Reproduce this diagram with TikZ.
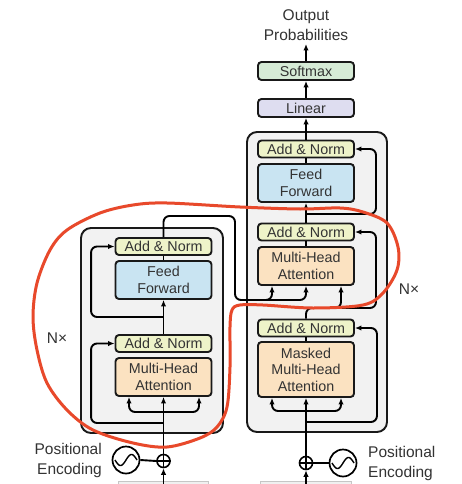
\documentclass[tikz,border=0pt]{standalone}
\usepackage{fontspec}
\setmainfont{Liberation Sans}
\usetikzlibrary{arrows.meta,calc}
\definecolor{annorm}{HTML}{EEF3C9}
\definecolor{ffblue}{HTML}{C9E4F2}
\definecolor{mhac}{HTML}{FBE2C1}
\definecolor{softc}{HTML}{D6EBD6}
\definecolor{linc}{HTML}{DEDDF0}
\definecolor{boxbg}{HTML}{F2F2F2}
\definecolor{inkred}{HTML}{E8492B}
\definecolor{txt}{HTML}{333333}
\begin{document}
\begin{tikzpicture}[x=1pt,y=-1pt,
  blk/.style={draw=black!90,line width=1.9pt,rounded corners=3.5pt,inner sep=0pt,align=center,
    font=\fontsize{14.3}{16.5}\selectfont,text=txt,minimum width=96pt},
  anbox/.style={blk,fill=annorm,minimum height=17pt},
  ffbox/.style={blk,fill=ffblue,minimum height=38pt},
  mhabox/.style={blk,fill=mhac,minimum height=38pt},
  outer/.style={draw=black!90,line width=1.9pt,rounded corners=10pt,fill=boxbg},
  conn/.style={line width=1.9pt,rounded corners=6pt},
  arr/.style={conn,-{Latex[length=6.5pt,width=5.5pt]}},
  lab/.style={font=\fontsize{15.5}{20}\selectfont,text=txt,inner sep=0pt},
  addc/.style={circle,draw,line width=1.6pt,minimum size=13pt,inner sep=0pt,fill=white},
  pec/.style={circle,draw,line width=1.7pt,minimum size=27pt,inner sep=0pt}]
\useasboundingbox (0,0) rectangle (462,484);
\fill[white] (0,0) rectangle (462,484);

% outer boxes
\draw[outer] (81,228) rectangle (223,433);
\draw[outer] (247,132) rectangle (387,432);

% embedding box tops
\draw[gray!45,fill=gray!12,line width=0.8pt] (118,484.5) -- (118,481.5) -- (208,481.5) -- (208,484.5);
\draw[gray!45,fill=gray!12,line width=0.8pt] (260,484.5) -- (260,481.5) -- (351,481.5) -- (351,484.5);

% encoder blocks
\node[anbox] (eAN2) at (163.5,246.5) {Add \& Norm};
\node[ffbox] (eFF) at (163.5,280) {Feed\\Forward};
\node[anbox] (eAN1) at (163.5,343.5) {Add \& Norm};
\node[mhabox] (eMHA) at (163.5,377) {Multi-Head\\Attention};

% decoder blocks
\node[anbox] (dAN3) at (306,149) {Add \& Norm};
\node[ffbox] (dFF) at (306,183) {Feed\\Forward};
\node[anbox] (dAN2) at (306,232) {Add \& Norm};
\node[mhabox] (dMHA) at (306,266) {Multi-Head\\Attention};
\node[anbox] (dAN1) at (306,328) {Add \& Norm};
\node[blk,fill=mhac,minimum height=55pt] (dMMHA) at (306,369.5) {Masked\\Multi-Head\\Attention};
\node[blk,fill=linc,minimum height=18pt] (lin) at (306,108) {Linear};
\node[blk,fill=softc,minimum height=18pt] (soft) at (306,71) {Softmax};
\node[lab,align=center] (outp) at (306,25.5) {Output\\Probabilities};
\coordinate (pOut) at (306,44);

% labels
\node[lab] (eN) at (57,338) {N×};
\node[lab] (dN) at (409,289) {N×};

% positional encodings
\node[addc] (eAdd) at (163.5,461) {};
\draw[line width=1.4pt] (eAdd.north) -- (eAdd.south) (eAdd.west) -- (eAdd.east);
\node[pec] (ePE) at (126,460) {};
\draw[line width=1.4pt] plot[domain=-11:11,samples=40,smooth] ({126+\x},{460-5.5*sin(\x*180/11)});
\draw[conn] (ePE.east) -- (eAdd.west);
\node[lab,align=right,anchor=east] (ePEt) at (102,460) {Positional\\Encoding};

\node[addc] (dAdd) at (306,463) {};
\draw[line width=1.4pt] (dAdd.north) -- (dAdd.south) (dAdd.west) -- (dAdd.east);
\node[pec] (dPE) at (343,463) {};
\draw[line width=1.4pt] plot[domain=-11:11,samples=40,smooth] ({343+\x},{463-5.5*sin(\x*180/11)});
\draw[conn] (dAdd.east) -- (dPE.west);
\node[lab,align=left,anchor=west] (dPEt) at (368,463) {Positional\\Encoding};

% encoder connectors
\coordinate (eIn) at (163.5,484);
\coordinate (eB) at (163.5,412);
\coordinate (eR1) at (163.5,423);
\coordinate (eR2) at (163.5,317);
\draw[arr] (eIn) -- (eAdd.south);
\draw[arr] (eAdd.north) -- (eMHA.south);
\draw[arr] (eB) -| ([xshift=-34.5pt]eMHA.south);
\draw[arr] (eB) -| ([xshift=35.5pt]eMHA.south);
\draw[arr] (eR1) -| ([xshift=-23.5pt]eAN1.west) -- (eAN1.west);
\draw[arr] (eAN1.north) -- (eFF.south);
\draw[conn] (eFF.north) -- (eAN2.south);
\draw[arr] (eR2) -| ([xshift=-23.5pt]eAN2.west) -- (eAN2.west);

% encoder output to decoder
\coordinate (eT) at (235,216);
\coordinate (eK) at (235,300);
\coordinate (eK2) at (262,300);
\draw[arr] (eAN2.north) |- (eT) -- (eK) -| ([xshift=-34pt]dMHA.south);
\draw[arr] (eK2) -| (dMHA.south);

% decoder connectors
\coordinate (dIn) at (306,484);
\coordinate (dB) at (306,411);
\coordinate (dR1) at (306,422);
\coordinate (dR2c) at (376,308);
\coordinate (dQ2) at (322,308);
\coordinate (dR3s) at (306,214);
\coordinate (dR3c) at (376,214);
\draw[arr] (dIn) -- (dAdd.south);
\draw[arr] (dAdd.north) -- (dMMHA.south);
\draw[arr] (dB) -| ([xshift=-34pt]dMMHA.south);
\draw[arr] (dB) -| ([xshift=35pt]dMMHA.south);
\draw[arr] (dR1) -| ([xshift=22pt]dAN1.east) -- (dAN1.east);
\draw[conn] (dMMHA.north) -- (dAN1.south);
\draw[arr] (dAN1.north) |- (dR2c) |- (dAN2.east);
\draw[arr] (dQ2) -| ([xshift=35pt]dMHA.south);
\draw[conn] (dMHA.north) -- (dAN2.south);
\draw[arr] (dAN2.north) -- (dFF.south);
\draw[arr] (dR3s) -- (dR3c) |- (dAN3.east);
\draw[conn] (dFF.north) -- (dAN3.south);
\draw[arr] (dAN3.north) -- (lin.south);
\draw[arr] (lin.north) -- (soft.south);
\draw[arr] (soft.north) -- (pOut);

% red hand-drawn loop
\draw[inkred,line width=3pt] plot[smooth cycle,tension=0.55] coordinates {
  (240,305) (263,305) (313,308) (363,305) (383,293) (397,270) (398,247) (387,223)
  (363,212) (340,208) (300,209) (240,207) (167,203) (133,205) (100,213) (67,230)
  (50,250) (37,283) (33,317) (37,350) (47,383) (67,410) (93,430) (133,443)
  (167,447) (200,438) (217,427) (227,407) (230,367) (230,327) (232,310)};
\end{tikzpicture}
\end{document}
